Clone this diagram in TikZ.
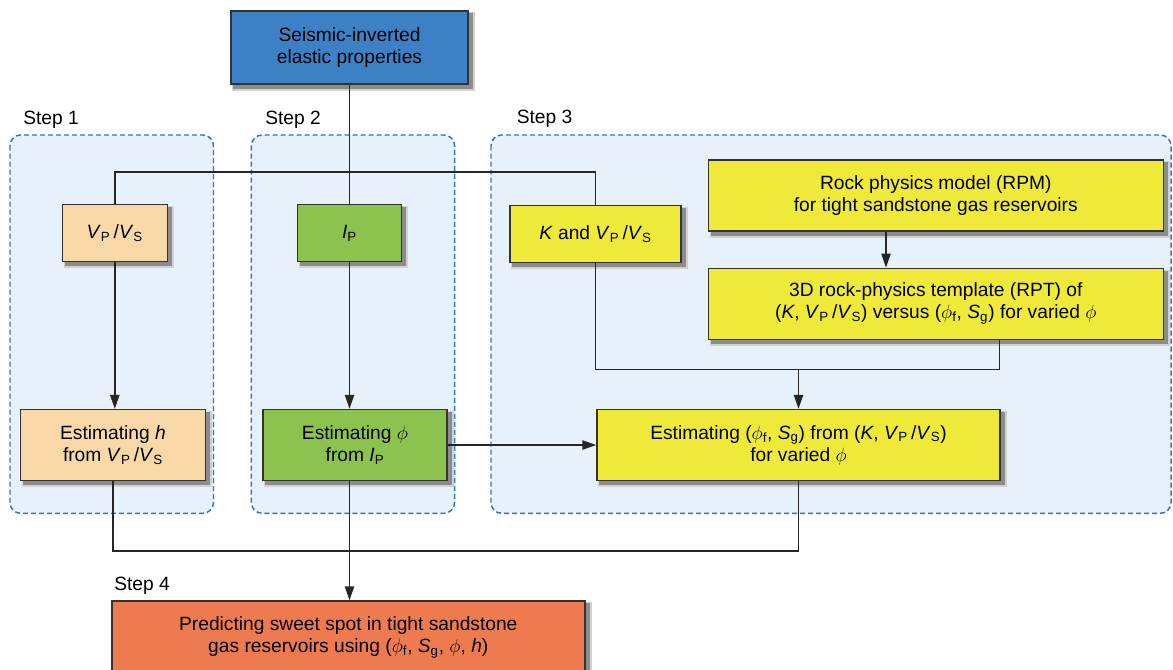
\documentclass[tikz,border=0pt]{standalone}
\usepackage{fontspec}
\setmainfont{Liberation Sans}
\usetikzlibrary{arrows.meta}
\pgfdeclarelayer{back}
\pgfdeclarelayer{mid}
\pgfsetlayers{back,mid,main}
\definecolor{seisblue}{HTML}{3C80C5}
\definecolor{peach}{HTML}{F9D8A8}
\definecolor{leaf}{HTML}{8BC34E}
\definecolor{lemon}{HTML}{EFE93A}
\definecolor{coral}{HTML}{EE7B50}
\definecolor{contfill}{HTML}{E6F1FB}
\definecolor{contdraw}{HTML}{2F74C4}
\definecolor{boxline}{HTML}{333333}
\newcommand{\VV}{\textit{V}\textsubscript{P}\,/\textit{V}\textsubscript{S}}
\tikzset{
  box/.style={draw=boxline, line width=1.1pt, inner sep=0pt, align=center},
  container/.style={fill=contfill, draw=contdraw, line width=1.1pt,
    dash pattern=on 3.75pt off 2.25pt, rounded corners=8pt},
  steplabel/.style={anchor=west, inner sep=0pt},
  conn/.style={draw=black!85, line width=1.1pt},
  arr/.style={conn, -{Triangle[length=10.5pt,width=7pt]}},
  shadowA/.style={fill=black!18},
  shadowB/.style={fill=black!45}
}
\begin{document}
\begin{tikzpicture}[x=0.75pt,y=-0.75pt,font=\fontsize{14.4}{16.5}\selectfont]
\clip (0,0) rectangle (1173,669);
\begin{pgfonlayer}{back}
\fill[white] (0,0) rectangle (1173,669);
\path[container] (10,135) rectangle (213.5,513.3);
\path[container] (251.4,135) rectangle (454.6,513.3);
\path[container] (491,135) rectangle (1171,513.3);
\end{pgfonlayer}
% step labels
\node[steplabel] (l1) at (23,119.5) {Step 1};
\node[steplabel] (l2) at (265,119.5) {Step 2};
\node[steplabel] (l3) at (516.5,119) {Step 3};
\node[steplabel] (l4) at (114,586) {Step 4};
% boxes
\node[box, fill=seisblue, minimum width={237*0.75pt}, minimum height={73*0.75pt}] (seis) at (349.5,47.5) {Seismic-inverted\\elastic properties};
\node[box, fill=peach, minimum width={105*0.75pt}, minimum height={57*0.75pt}] (vpvs) at (114.8,233) {\VV};
\node[box, fill=leaf, minimum width={104*0.75pt}, minimum height={57*0.75pt}] (ip) at (349.5,233) {\textit{I}\textsubscript{P}};
\node[box, fill=lemon, minimum width={171*0.75pt}, minimum height={57*0.75pt}] (kv) at (595.5,234) {\textit{K} and \VV};
\node[box, fill=lemon, minimum width={455*0.75pt}, minimum height={71*0.75pt}] (rpm) at (935.8,195.3) {Rock physics model (RPM)\\for tight sandstone gas reservoirs};
\node[box, fill=lemon, minimum width={455*0.75pt}, minimum height={71*0.75pt}] (rpt) at (935.8,303.8) {3D rock-physics template (RPT) of\\(\textit{K}, \VV) versus ($\phi$\textsubscript{f}, \textit{S}\textsubscript{g}) for varied $\phi$};
\node[box, fill=peach, minimum width={185*0.75pt}, minimum height={71*0.75pt}] (esth) at (113,445) {Estimating \textit{h}\\from \VV};
\node[box, fill=leaf, minimum width={184*0.75pt}, minimum height={71*0.75pt}] (estphi) at (355,445) {Estimating $\phi$\\from \textit{I}\textsubscript{P}};
\node[box, fill=lemon, minimum width={403*0.75pt}, minimum height={71*0.75pt}] (estf) at (798.5,445) {Estimating ($\phi$\textsubscript{f}, \textit{S}\textsubscript{g}) from (\textit{K}, \VV)\\for varied $\phi$};
\node[box, fill=coral, minimum width={473*0.75pt}, minimum height={72*0.75pt}] (pred) at (348.3,637) {Predicting sweet spot in tight sandstone\\gas reservoirs using ($\phi$\textsubscript{f}, \textit{S}\textsubscript{g}, $\phi$, \textit{h})};
% shadows
\begin{pgfonlayer}{mid}
\foreach \n in {seis,vpvs,ip,kv,rpm,rpt,esth,estphi,estf,pred}{
  \path[shadowA] ([shift={(1.5pt,-4.5pt)}]\n.south west) rectangle ([shift={(4.5pt,-1.5pt)}]\n.north east);
  \path[shadowB] ([shift={(2.2pt,-3pt)}]\n.south west) rectangle ([shift={(3pt,-2.2pt)}]\n.north east);
}
\end{pgfonlayer}
% helper coordinates
\coordinate (top) at (0,172);
\coordinate (mid) at (999.5,369.5);
\coordinate (bot) at (0,551);
\coordinate (rx) at (886,0);
% connectors
\draw[conn] (seis.south -| ip.north) -- (ip.north);
\draw[conn] (vpvs.north) |- (kv.north |- top) -- (kv.north);
\draw[arr] (vpvs.south) -- (vpvs.south |- esth.north);
\draw[arr] (ip.south) -- (ip.south |- estphi.north);
\draw[arr] (rpm.south -| rx) -- (rpt.north -| rx);
\draw[conn] (kv.south) |- (mid) -- (mid |- rpt.south);
\draw[arr] (estf.north |- mid) -- (estf.north);
\draw[arr] (estphi.east) -- (estf.west);
\draw[conn] (esth.south) |- (estf.south |- bot) -- (estf.south);
\draw[arr] (estphi.south -| ip) -- (pred.north -| ip);
\end{tikzpicture}
\end{document}
